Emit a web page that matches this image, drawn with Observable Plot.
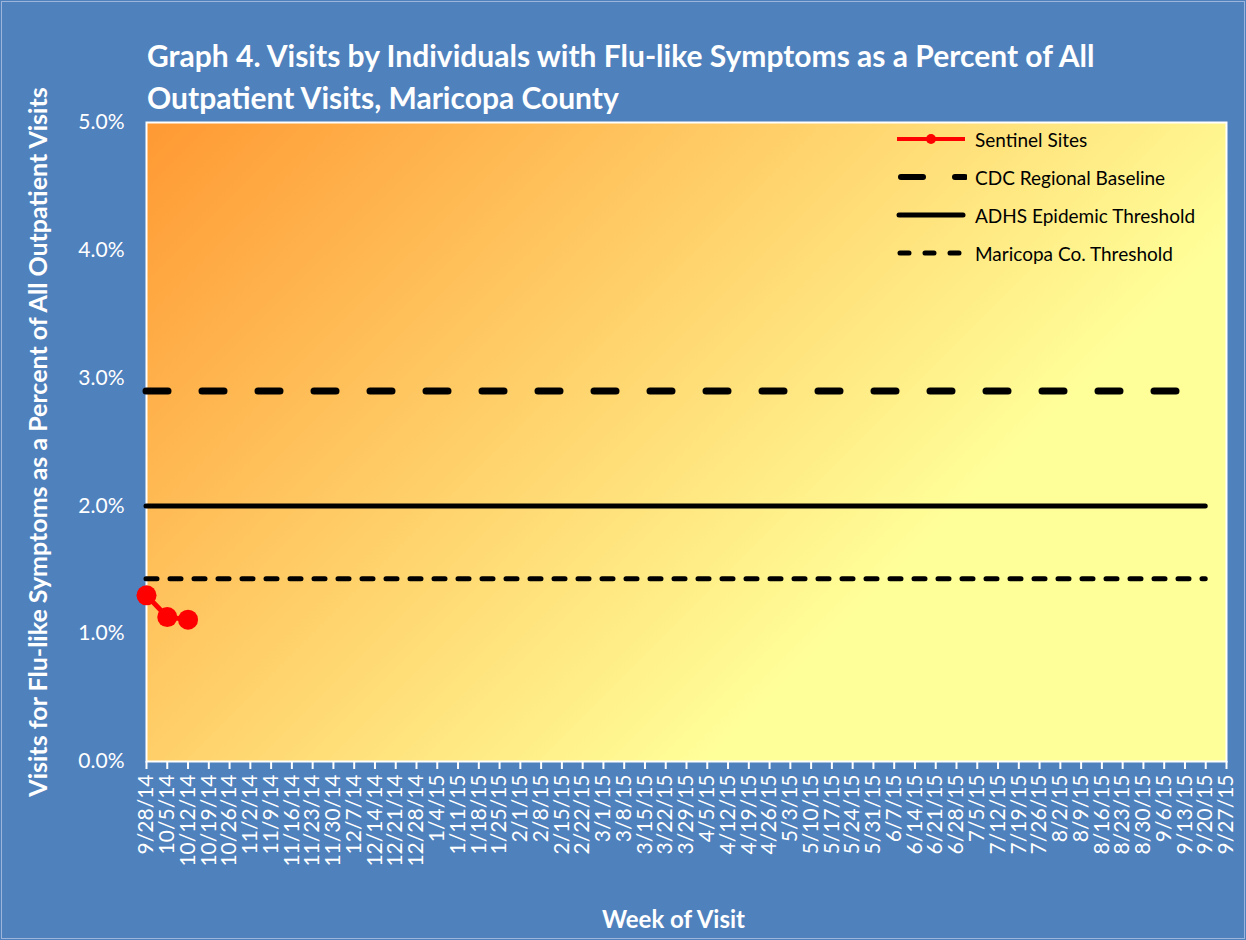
<!DOCTYPE html>
<html>
<head>
<meta charset="utf-8">
<script src="https://cdn.jsdelivr.net/npm/d3@7"></script>
<script src="https://cdn.jsdelivr.net/npm/@observablehq/plot@0.6"></script>
<style>
  html, body { margin: 0; padding: 0; background: #4F81BD; }
  #wrap { position: relative; width: 1246px; height: 940px; background: #4F81BD; overflow: hidden; font-family: Lato, "Open Sans", sans-serif; }
  #frameline { position: absolute; left: 1px; top: 1px; width: 1242px; height: 936px; border: 1px solid #9DB5DA; }
  #title { position: absolute; left: 147px; top: 34px; color: white; font-weight: bold; font-size: 30px; line-height: 42px; white-space: nowrap; }
  #chart { position: absolute; left: 0; top: 0; }
  #legend { position: absolute; left: 895px; top: 120px; font-size: 19px; color: #000; }
  .row { height: 38px; display: flex; align-items: center; margin-top: 0; }
  .row svg { width: 72px; height: 20px; margin-right: 8px; }
</style>
</head>
<body>
<div id="wrap">
  <div id="frameline"></div>
  <div id="chart"></div>
  <div id="title"></div>
  <div id="legend"></div>
</div>
<script>
// ---- data ----
const weeks = ["9/28/14","10/5/14","10/12/14","10/19/14","10/26/14","11/2/14","11/9/14","11/16/14","11/23/14","11/30/14",
  "12/7/14","12/14/14","12/21/14","12/28/14","1/4/15","1/11/15","1/18/15","1/25/15","2/1/15","2/8/15",
  "2/15/15","2/22/15","3/1/15","3/8/15","3/15/15","3/22/15","3/29/15","4/5/15","4/12/15","4/19/15",
  "4/26/15","5/3/15","5/10/15","5/17/15","5/24/15","5/31/15","6/7/15","6/14/15","6/21/15","6/28/15",
  "7/5/15","7/12/15","7/19/15","7/26/15","8/2/15","8/9/15","8/16/15","8/23/15","8/30/15","9/6/15",
  "9/13/15","9/20/15","9/27/15"];
const sentinelWeeks = ["9/28/14","10/5/14","10/12/14"];
const sentinelValues = [0.0130, 0.0113, 0.0111];
const cdcBaseline = 0.029;
const adhsThreshold = 0.020;
const maricopaThreshold = 0.0143;
const thresholdStart = "9/28/14";
const thresholdEnd = "9/20/15";
const yTicks = [0, 0.01, 0.02, 0.03, 0.04, 0.05];
const titleLines = ["Graph 4. Visits by Individuals with Flu-like Symptoms as a Percent of All", "Outpatient Visits, Maricopa County"];
const legendItems = ["Sentinel Sites", "CDC Regional Baseline", "ADHS Epidemic Threshold", "Maricopa Co. Threshold"];
const yLabel = "Visits for Flu-like Symptoms as a Percent of All Outpatient Visits";
const xLabel = "Week of Visit";

const sentinel = sentinelWeeks.map((w, i) => ({week: w, value: sentinelValues[i]}));
const rule = v => [{v, a: thresholdStart, b: thresholdEnd}];

const title = d3.select("#title");
titleLines.forEach((t, i) => { if (i) title.append("br"); title.append("span").text(t); });

const plot = Plot.plot({
  width: 1246,
  height: 940,
  marginLeft: 146,
  marginRight: 20,
  marginTop: 122,
  marginBottom: 179,
  style: {fontFamily: "Lato, 'Open Sans', sans-serif", fontSize: "21px", color: "white", background: "transparent", overflow: "visible"},
  x: {type: "point", domain: weeks, padding: 0},
  y: {domain: [0, 0.05]},
  marks: [
    Plot.frame({fill: "url(#bgGrad)", stroke: "white", strokeWidth: 2}),
    Plot.axisY({ticks: yTicks, tickFormat: d3.format(".1%"), tickSize: 0, tickPadding: 22, label: null, fontSize: 21}),
    Plot.axisX({tickRotate: -90, tickSize: 8, tickPadding: 5, label: null, fontSize: 21, strokeWidth: 2}),
    Plot.ruleY(rule(cdcBaseline), {y: "v", x1: "a", x2: "b", stroke: "black", strokeWidth: 7, strokeDasharray: "22,34", strokeLinecap: "round"}),
    Plot.ruleY(rule(adhsThreshold), {y: "v", x1: "a", x2: "b", stroke: "black", strokeWidth: 5, strokeLinecap: "round"}),
    Plot.ruleY(rule(maricopaThreshold), {y: "v", x1: "a", x2: "b", stroke: "black", strokeWidth: 5, strokeDasharray: "11,13", strokeLinecap: "round"}),
    Plot.line(sentinel, {x: "week", y: "value", stroke: "#FF0000", strokeWidth: 5}),
    Plot.dot(sentinel, {x: "week", y: "value", r: 10, fill: "#FF0000", stroke: "none"}),
    Plot.text([yLabel], {frameAnchor: "left", dx: -108, rotate: -90, textAnchor: "middle", fontWeight: "bold", fontSize: 25, fill: "white"}),
    Plot.text([xLabel], {frameAnchor: "bottom", dy: 166, dx: -13, textAnchor: "middle", fontWeight: "bold", fontSize: 24, fill: "white"})
  ]
});

// gradient for plot area
const defs = d3.select(plot).insert("defs", ":first-child");
const grad = defs.append("linearGradient").attr("id", "bgGrad")
  .attr("gradientUnits", "userSpaceOnUse")
  .attr("x1", 146).attr("y1", 122).attr("x2", 747).attr("y2", 723);
grad.append("stop").attr("offset", 0).attr("stop-color", "#FF9933");
grad.append("stop").attr("offset", 1).attr("stop-color", "#FFFF99");

document.getElementById("chart").appendChild(plot);

// legend
const legend = d3.select("#legend");
const swatches = [
  s => { s.append("line").attr("x1", 2).attr("x2", 70).attr("y1", 10).attr("y2", 10).attr("stroke", "#FF0000").attr("stroke-width", 4);
         s.append("circle").attr("cx", 36).attr("cy", 10).attr("r", 5).attr("fill", "#FF0000"); },
  s => { s.append("line").attr("x1", 6).attr("x2", 70).attr("y1", 10).attr("y2", 10).attr("stroke", "#000").attr("stroke-width", 6)
         .attr("stroke-dasharray", "22,32").attr("stroke-linecap", "round"); },
  s => { s.append("line").attr("x1", 4).attr("x2", 68).attr("y1", 10).attr("y2", 10).attr("stroke", "#000").attr("stroke-width", 5).attr("stroke-linecap", "round"); },
  s => { s.append("line").attr("x1", 5).attr("x2", 68).attr("y1", 10).attr("y2", 10).attr("stroke", "#000").attr("stroke-width", 5)
         .attr("stroke-dasharray", "9,16").attr("stroke-linecap", "round"); }
];
legendItems.forEach((name, i) => {
  const row = legend.append("div").attr("class", "row");
  const s = row.append("svg").attr("viewBox", "0 0 72 20");
  swatches[i](s);
  row.append("span").text(name);
});
</script>
</body>
</html>
